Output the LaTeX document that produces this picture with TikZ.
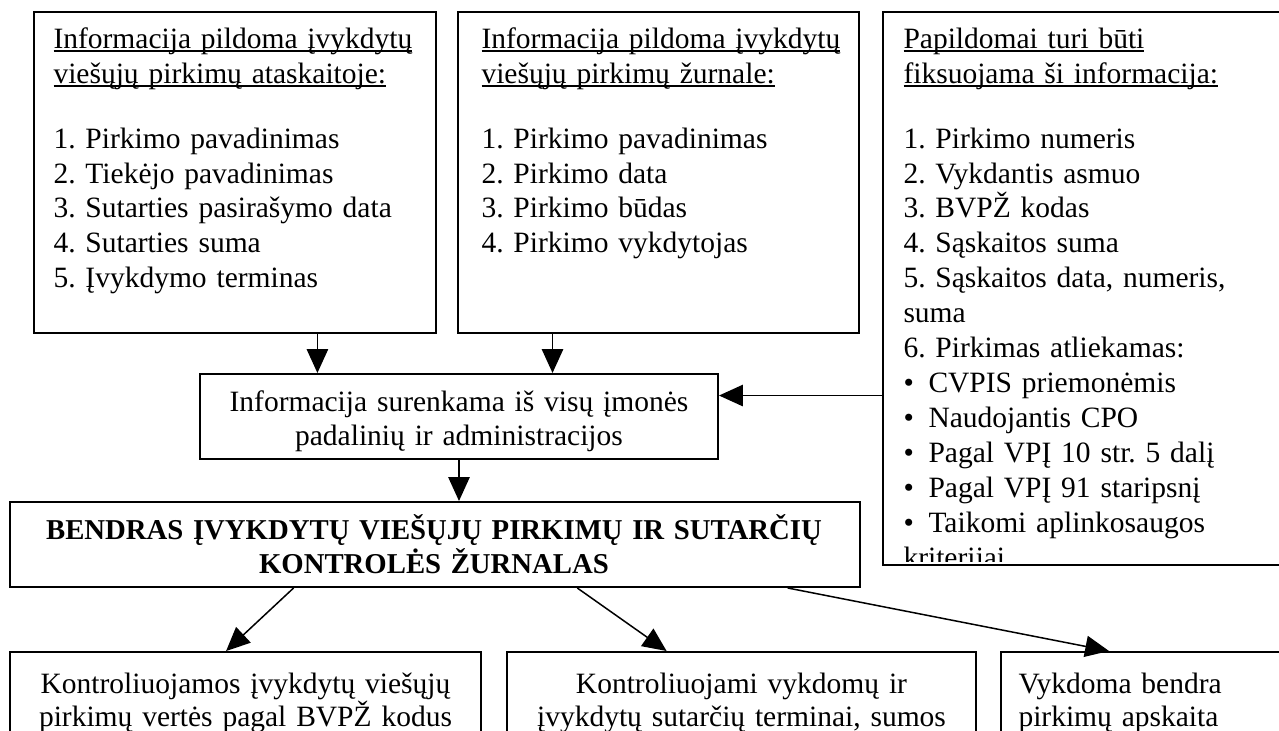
\documentclass[tikz,border=0pt]{standalone}
\usepackage{fontspec}
\setmainfont{Liberation Serif}
\usetikzlibrary{arrows.meta,calc,fit}
\frenchspacing

% word-processor style underline: thin rule just below the baseline
\newlength\ulwd
\newcommand{\wul}[1]{\leavevmode\settowidth{\ulwd}{#1}\rlap{\rule[-1.3pt]{\ulwd}{0.7pt}}#1}
\newcommand{\bul}{\makebox[10pt][l]{•}}

\begin{document}
\begin{tikzpicture}[x=0.4pt,y=-0.4pt,
  box/.style={draw,line width=0.8pt,inner sep=0pt},
  txt/.style={inner sep=0pt,font=\fontsize{11.8}{13.36}\selectfont\frenchspacing},
  listtxt/.style={inner sep=0pt,font=\fontsize{11.8}{13.96}\selectfont\frenchspacing},
  btxt/.style={inner sep=0pt,font=\fontsize{11.5}{13.6}\selectfont\bfseries},
  arr/.style={line width=0.6pt,-{Triangle[length=9.5pt,width=8.5pt]}},
]
\useasboundingbox (0,0) rectangle (1279,731);
\clip (0,0) rectangle (1279,731);

% frames
\node[box,fit={(34,12) (436,333)}] (A) {};
\node[box,fit={(458,12) (859,333)}] (B) {};
\node[box,fit={(883,12) (1300,565)}] (C) {};
\node[box,fit={(200,374) (718,459)}] (D) {};
\node[box,fit={(10,502) (860,587)}] (E) {};
\node[box,fit={(10,652) (481,760)}] (F) {};
\node[box,fit={(507,652) (976,760)}] (G) {};
\node[box,fit={(1001,652) (1300,760)}] (H) {};

% upper boxes
\node[listtxt,anchor=base west,text width=155pt,align=left] (At) at (53,49)
  {\wul{Informacija pildoma įvykdytų}\\
   \wul{viešųjų pirkimų ataskaitoje:}\\[11.76pt]
   1. Pirkimo pavadinimas\\
   2. Tiekėjo pavadinimas\\
   3. Sutarties pasirašymo data\\
   4. Sutarties suma\\
   5. Įvykdymo terminas};
\node[listtxt,anchor=base west,text width=155pt,align=left] (Bt) at (481,49)
  {\wul{Informacija pildoma įvykdytų}\\
   \wul{viešųjų pirkimų žurnale:}\\[11.76pt]
   1. Pirkimo pavadinimas\\
   2. Pirkimo data\\
   3. Pirkimo būdas\\
   4. Pirkimo vykdytojas};
\begin{scope}
  \clip (C.north west) rectangle (1300,561);
  \node[listtxt,anchor=base west,text width=155pt,align=left] (Ct) at (903,49)
    {\wul{Papildomai turi būti}\\
     \wul{fiksuojama ši informacija:}\\[11.76pt]
     1. Pirkimo numeris\\
     2. Vykdantis asmuo\\
     3. BVPŽ kodas\\
     4. Sąskaitos suma\\
     5. Sąskaitos data, numeris,\\
     suma\\
     6. Pirkimas atliekamas:\\
     \bul CVPIS priemonėmis\\
     \bul Naudojantis CPO\\
     \bul Pagal VPĮ 10 str. 5 dalį\\
     \bul Pagal VPĮ 91 staripsnį\\
     \bul Taikomi aplinkosaugos\\
     kriterijai};
\end{scope}

% middle boxes
\node[txt,anchor=base,text width=200pt,align=center] (Dt) at (459,412)
  {Informacija surenkama iš visų įmonės\\ padalinių ir administracijos};
\node[btxt,anchor=base,text width=330pt,align=center] (Et) at (434,540)
  {BENDRAS ĮVYKDYTŲ VIEŠŲJŲ PIRKIMŲ IR SUTARČIŲ\\ KONTROLĖS ŽURNALAS};

% lower boxes
\node[txt,anchor=base,text width=185pt,align=center] (Ft) at (245.5,693)
  {Kontroliuojamos įvykdytų viešųjų\\ pirkimų vertės pagal BVPŽ kodus};
\node[txt,anchor=base,text width=185pt,align=center] (Gt) at (741.5,693)
  {Kontroliuojami vykdomų ir\\ įvykdytų sutarčių terminai, sumos};
\node[txt,anchor=base west,text width=110pt,align=left] (Ht) at (1018,693)
  {Vykdoma bendra\\ pirkimų apskaita};

% connectors
\coordinate (a1) at ($(A.south west)!0.704!(A.south east)$);
\draw[arr] (a1) -- (a1 |- D.north);
\coordinate (b1) at ($(B.south west)!0.237!(B.south east)$);
\draw[arr] (b1) -- (b1 |- D.north);
\coordinate (c1) at ($(D.north east)!0.259!(D.south east)$);
\draw[arr] (c1 -| C.west) -- (c1);
\draw[arr] (D.south) -- (D.south |- E.north);
\draw[arr] ($(E.south west)!0.334!(E.south east)$) -- ($(F.north west)!0.459!(F.north east)$);
\draw[arr] ($(E.south west)!0.667!(E.south east)$) -- ($(G.north west)!0.341!(G.north east)$);
\draw[arr] ($(E.south west)!0.914!(E.south east)$) -- ($(H.north west)+(109,0)$);
\end{tikzpicture}
\end{document}
